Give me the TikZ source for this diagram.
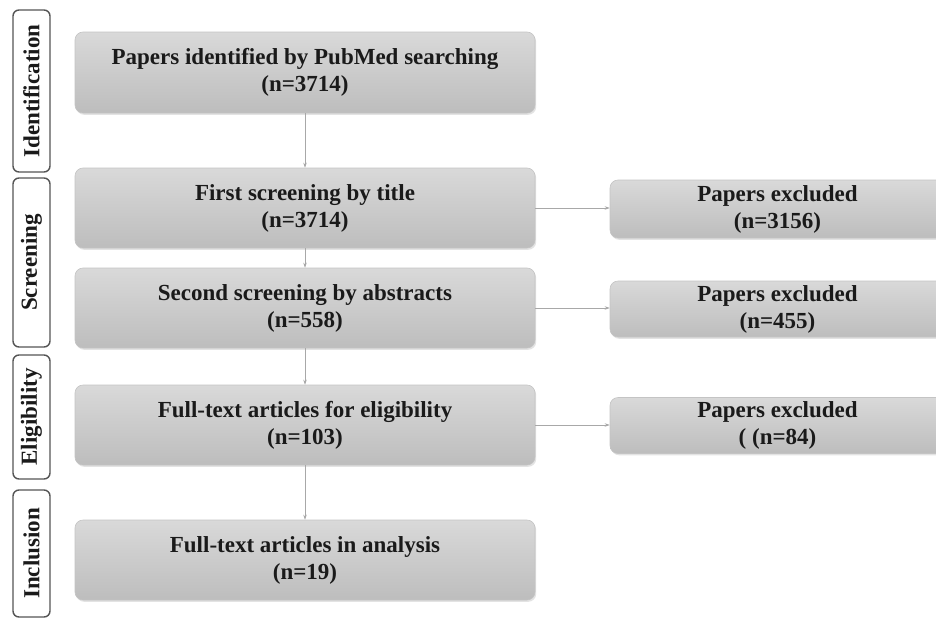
\documentclass[tikz,border=0pt]{standalone}
\usepackage{fontspec}
\setmainfont{Liberation Serif}
\usetikzlibrary{arrows.meta,shadows}
\definecolor{boxtop}{HTML}{D9D9D9}
\definecolor{boxbot}{HTML}{BDBDBD}
\definecolor{boxline}{HTML}{C4C4C4}
\definecolor{arrowc}{HTML}{A8A8A8}
\definecolor{labline}{HTML}{555555}
\definecolor{txt}{HTML}{1A1A1A}
\begin{document}
\begin{tikzpicture}[x=1pt,y=-1pt,
  every node/.style={font=\fontsize{23}{27}\selectfont\bfseries, text=txt, align=center, inner sep=0pt},
  mainbox/.style={draw=boxline, line width=0.6pt, rounded corners=8pt, top color=boxtop, bottom color=boxbot,
    minimum width=460pt, minimum height=80pt,
    drop shadow={opacity=0.22, shadow xshift=1.2pt, shadow yshift=-1.8pt}},
  exbox/.style={mainbox, minimum width=335pt, minimum height=56pt},
  stagebox/.style={draw=labline, line width=1.4pt, rounded corners=6pt, fill=white, rotate=90, minimum height=37pt},
  flow/.style={draw=arrowc, line width=0.7pt, -{Stealth[length=5pt,width=3.5pt]}}
]
\clip (0,0) rectangle (936,621);
\fill[white] (0,0) rectangle (936,621);

% stage labels
\node[stagebox, minimum width=162pt] (sid) at (31.5,91) {Identification};
\node[stagebox, minimum width=169pt] (ssc) at (31.5,262.5) {Screening};
\node[stagebox, minimum width=124pt] (sel) at (31.5,417) {Eligibility};
\node[stagebox, minimum width=127pt] (sin) at (31.5,553.5) {Inclusion};

% main boxes
\node[mainbox, minimum height=81pt] (b1) at (305,72.5) {Papers identified by PubMed searching\\(n=3714)};
\node[mainbox] (b2) at (305,208) {First screening by title\\(n=3714)};
\node[mainbox] (b3) at (305,308) {Second screening by abstracts\\(n=558)};
\node[mainbox] (b4) at (305,425) {Full-text articles for eligibility\\(n=103)};
\node[mainbox] (b5) at (305,560) {Full-text articles in analysis\\(n=19)};

% excluded boxes
\node[exbox, minimum height=58pt] (r1) at (777.5,209) {Papers excluded\\(n=3156)};
\node[exbox] (r2) at (777.5,309) {Papers excluded\\(n=455)};
\node[exbox] (r3) at (777.5,425.5) {Papers excluded\\( (n=84)};

% connectors
\draw[flow] (b1) -- (b2);
\draw[flow] (b2) -- (b3);
\draw[flow] (b3) -- (b4);
\draw[flow] (b4) -- (b5);
\draw[flow] (b2.east) -- (b2.east -| r1.west);
\draw[flow] (b3.east) -- (b3.east -| r2.west);
\draw[flow] (b4.east) -- (b4.east -| r3.west);
\end{tikzpicture}
\end{document}
